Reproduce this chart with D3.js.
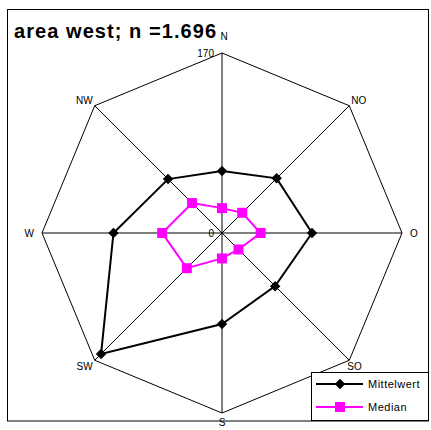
<!DOCTYPE html>
<html>
<head>
<meta charset="utf-8">
<script src="https://cdn.jsdelivr.net/npm/d3@7"></script>
<style>
  body { margin: 0; background: #fff; }
  svg { display: block; font-family: "Liberation Sans", Arial, sans-serif; }
</style>
</head>
<body>
<svg width="431" height="430"></svg>
<script>
// directions, clockwise from north
var directions = ['N', 'NO', 'O', 'SO', 'S', 'SW', 'W', 'NW'];
var mittelwert = [58.5, 73, 85, 71, 86, 161.5, 102.5, 72];
var median = [23.5, 27, 36.5, 22, 24, 47, 56.5, 40];
var axisMax = 170;
var tickLabels = ['0', '170'];

var svg = d3.select('svg');
var cx = 222, cy = 233, R = 180;

var r = d3.scaleLinear().domain([0, axisMax]).range([0, R]);
var angle = d3.scalePoint().domain(directions).range([0, 2 * Math.PI * 7 / 8]);

function pt(dir, v){
	var a = angle(dir);
	return [cx + r(v) * Math.sin(a), cy - r(v) * Math.cos(a)];
}

// outer frame
svg.append('rect')
	.attr('x', 7.5).attr('y', 9.5)
	.attr('width', 421).attr('height', 411.5)
	.attr('fill', 'none').attr('stroke', '#000').attr('stroke-width', 1);

// octagon grid
var outer = directions.map(function(d){ return pt(d, axisMax); });
svg.append('path')
	.attr('d', d3.line()(outer) + 'Z')
	.attr('fill', 'none').attr('stroke', '#000').attr('stroke-width', 1);

// spokes
svg.selectAll('line.spoke')
	.data(directions)
	.enter()
	.append('line')
	.attr('class', 'spoke')
	.attr('x1', cx).attr('y1', cy)
	.attr('x2', function(d){ return pt(d, axisMax)[0]; })
	.attr('y2', function(d){ return pt(d, axisMax)[1]; })
	.attr('stroke', '#000').attr('stroke-width', 1);

// direction labels
var labelOffset = {
	N: [2, -13, 'middle'], NO: [2, -2, 'start'], O: [8, 4, 'start'], SO: [-2, 10, 'start'],
	S: [0, 13, 'middle'], SW: [-2, 10, 'end'], W: [-8, 4, 'end'], NW: [-2, -2, 'end']
};
svg.selectAll('text.dir')
	.data(directions)
	.enter()
	.append('text')
	.attr('class', 'dir')
	.attr('x', function(d){ return pt(d, axisMax)[0] + labelOffset[d][0]; })
	.attr('y', function(d){ return pt(d, axisMax)[1] + labelOffset[d][1]; })
	.attr('text-anchor', function(d){ return labelOffset[d][2]; })
	.attr('font-size', 10)
	.text(function(d){ return d; });

// tick labels on north axis
svg.selectAll('text.tick')
	.data(tickLabels)
	.enter()
	.append('text')
	.attr('class', 'tick')
	.attr('x', cx - 8)
	.attr('y', function(d){ return cy - r(+d) + 4; })
	.attr('text-anchor', 'end')
	.attr('font-size', 10)
	.text(function(d){ return d; });

// series
var series = [
	{name: 'Mittelwert', values: mittelwert, color: '#000', marker: 'diamond'},
	{name: 'Median', values: median, color: '#ff00ff', marker: 'square'}
];

series.forEach(function(s){
	var pts = directions.map(function(d, i){ return pt(d, s.values[i]); });
	svg.append('path')
		.attr('d', d3.line()(pts) + 'Z')
		.attr('fill', 'none')
		.attr('stroke', s.color)
		.attr('stroke-width', 2);
	var sym = s.marker == 'diamond' ? d3.symbol().type(d3.symbolDiamond2).size(70) : d3.symbol().type(d3.symbolSquare).size(100);
	svg.selectAll('path.m-' + s.name)
		.data(pts)
		.enter()
		.append('path')
		.attr('class', 'm-' + s.name)
		.attr('d', sym)
		.attr('fill', s.color)
		.attr('transform', function(d){ return 'translate(' + d[0] + ',' + d[1] + ')'; });
});

// title
svg.append('text')
	.attr('x', 14).attr('y', 38)
	.attr('font-size', 20)
	.attr('font-weight', 'bold')
	.attr('textLength', 202)
	.attr('lengthAdjust', 'spacing')
	.text('area west; n =1.696');

// legend
var legend = svg.append('g').attr('transform', 'translate(311,372)');
legend.append('rect')
	.attr('x', 0.5).attr('y', 0.5)
	.attr('width', 117).attr('height', 48)
	.attr('fill', '#fff').attr('stroke', '#000');
series.forEach(function(s, i){
	var y = 12 + i * 23;
	legend.append('line')
		.attr('x1', 5).attr('x2', 52).attr('y1', y).attr('y2', y)
		.attr('stroke', s.color).attr('stroke-width', 2);
	var sym = s.marker == 'diamond' ? d3.symbol().type(d3.symbolDiamond2).size(70) : d3.symbol().type(d3.symbolSquare).size(100);
	legend.append('path')
		.attr('d', sym)
		.attr('fill', s.color)
		.attr('transform', 'translate(29,' + y + ')');
	legend.append('text')
		.attr('x', 57).attr('y', y + 4)
		.attr('font-size', 11)
		.attr('letter-spacing', 0.5)
		.text(s.name);
});
</script>
</body>
</html>
